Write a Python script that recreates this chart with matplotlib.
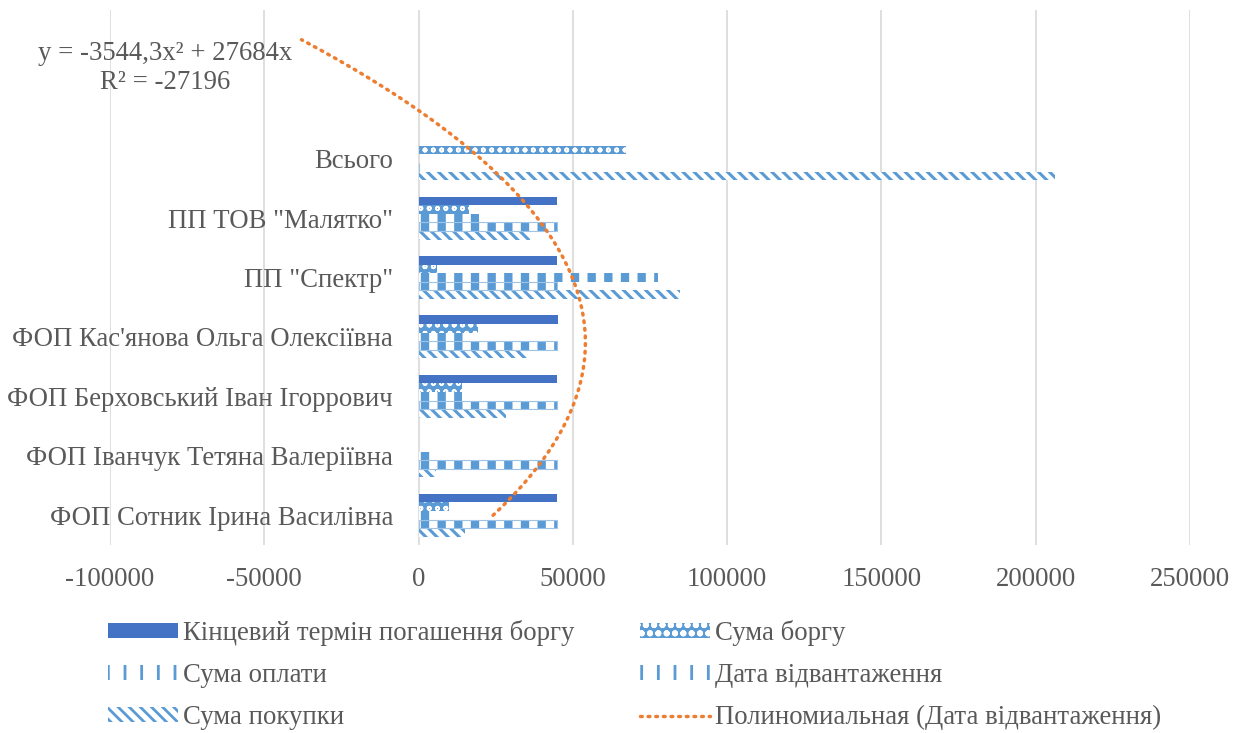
import numpy as np
import matplotlib.pyplot as plt

plt.rcParams['font.family'] = ['Liberation Serif', 'DejaVu Serif']
plt.rcParams['axes.unicode_minus'] = False
plt.rcParams['hatch.linewidth'] = 2.0

categories = ['ФОП Сотник Ірина Василівна', 'ФОП Іванчук Тетяна Валеріївна',
              'ФОП Берховський Іван Ігоррович', "ФОП Кас'янова Ольга Олексіївна",
              'ПП "Спектр"', 'ПП ТОВ "Малятко"', 'Всього']
kinets = [45000, 0, 45000, 45100, 44900, 44900, 0]
borg = [10000, 0, 14200, 19400, 6100, 16400, 67100]
oplata = [4800, 5500, 14200, 15200, 77700, 19700, 0]
data_vidv = [44900, 44900, 44900, 44900, 44900, 44900, 0]
pokupka = [14900, 5500, 28400, 35200, 84800, 36100, 206100]

# trendline shown on the chart (forward forecast 2 periods)
trend_a = -3544.3
trend_b = 27684
trend_text = 'y = -3544,3x² + 27684x\nR² = -27196'

names = ['Кінцевий термін погашення боргу', 'Сума боргу', 'Сума оплати',
         'Дата відвантаження', 'Сума покупки']
trend_name = 'Полиномиальная (Дата відвантаження)'

grey = '#595959'
blue = '#5B9BD5'
fs = 19.3

fig = plt.figure(figsize=(12.41, 7.33), dpi=100)
ax = fig.add_axes([110/1241, 1-545/733, 1080/1241, 535/733])

pos = np.arange(1, len(categories)+1)
h = 0.145
styles = [
    dict(color='#4472C4'),
    dict(facecolor=blue, edgecolor='white', hatch='oo', linewidth=0),
    dict(facecolor='white', edgecolor=blue, hatch='|', linewidth=0),
    dict(facecolor='white', edgecolor=blue, hatch='|', linewidth=0),
    dict(facecolor='white', edgecolor=blue, hatch='\\\\\\', linewidth=0),
]
hatch_lw = [None, 1.2, 6, 6, 2.2]
series = [kinets, borg, oplata, data_vidv, pokupka]
bars = []
for i, (vals, st) in enumerate(zip(series, styles)):
    b = ax.barh(pos + (2-i)*h, vals, height=h, label=names[i], zorder=2, **st)
    if hatch_lw[i] is not None:
        for p in b.patches:
            if hasattr(p, 'set_hatch_linewidth'):
                p.set_hatch_linewidth(hatch_lw[i])
    bars.append(b)
# thin outline of the "Дата відвантаження" pattern
ax.barh(pos - h, data_vidv, height=h, facecolor='none', edgecolor='#9DC3E6',
        linewidth=0.8, zorder=2)

xt = np.linspace(1, 9, 200)
tl, = ax.plot(trend_a*xt**2 + trend_b*xt, xt, color='#ED7D31', lw=2.5,
              linestyle=(0, (0.5, 1.7)), dash_capstyle='round', zorder=3)

fig.text(165/1241, 1-68/733, trend_text, ha='center', va='center', fontsize=fs,
         color=grey, linespacing=1.25)

ax.set_xlim(-100000, 250000)
ax.set_ylim(0.5, 9.5)
ax.set_xticks(np.arange(-100000, 250001, 50000))
ax.set_yticks(pos)
ax.set_yticklabels(categories)
ax.grid(axis='x', color='#D9D9D9', lw=1.2, zorder=0)
for s in ['top', 'right', 'bottom']:
    ax.spines[s].set_visible(False)
ax.spines['left'].set_position(('data', 0))
ax.spines['left'].set_color('none')
ax.tick_params(axis='y', length=0, pad=18.5, labelsize=fs, labelcolor=grey)
ax.tick_params(axis='x', length=0, pad=16, labelsize=fs, labelcolor=grey)

handles = [bars[0], bars[2], bars[4], bars[1], bars[3], tl]
labels = [names[0], names[2], names[4], names[1], names[3], trend_name]
fig.legend(handles, labels, ncol=2, loc='upper left', bbox_to_anchor=(108/1241, 1-620/733),
           frameon=False, fontsize=fs, labelcolor=grey, handlelength=2.6,
           handleheight=0.5, handletextpad=0.2, columnspacing=2.46,
           labelspacing=0.64, borderpad=0, borderaxespad=0)

fig.savefig('out.png', dpi=100)
